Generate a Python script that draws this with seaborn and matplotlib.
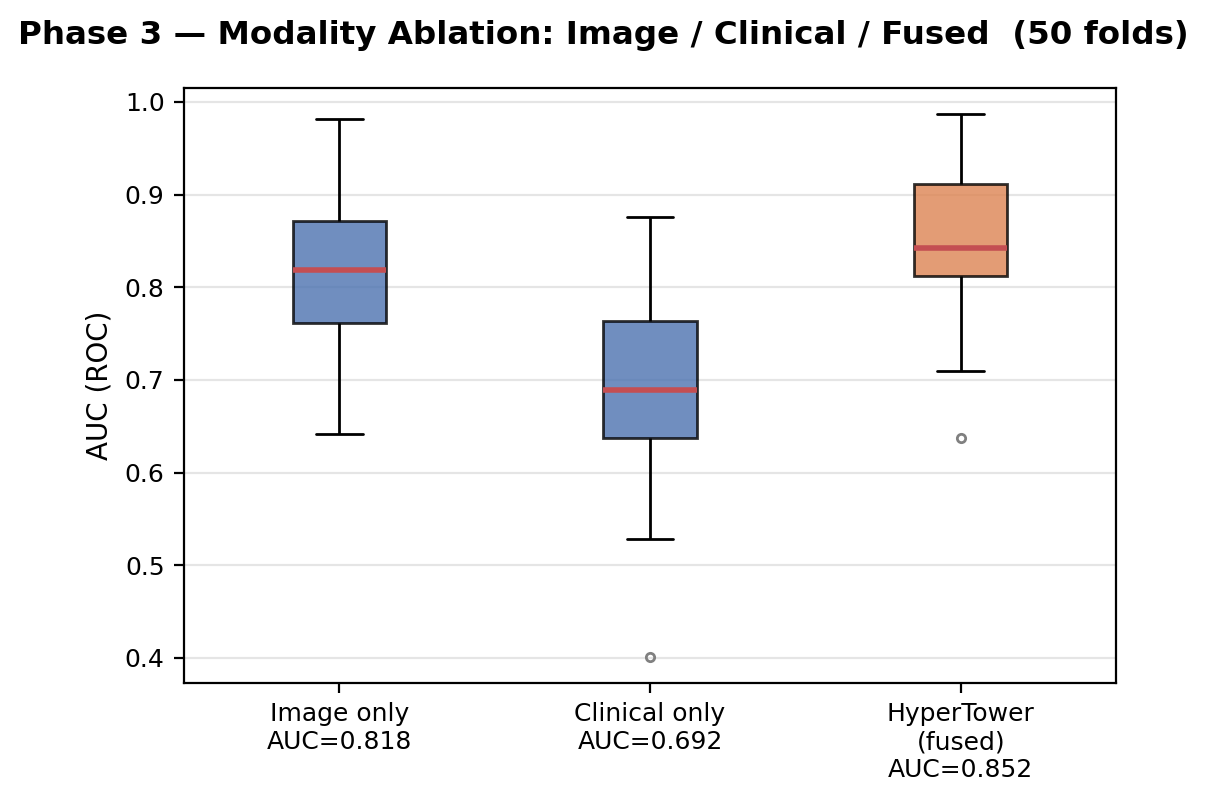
import numpy as np
import pandas as pd
import matplotlib
matplotlib.use("Agg")
import matplotlib.pyplot as plt
import seaborn as sns

# Box statistics (AUC per fold summary)
models = ["Image only", "Clinical only", "HyperTower\n(fused)"]
mean_auc = [0.818, 0.692, 0.852]
whisker_lo = [0.642, 0.528, 0.710]
q1 = [0.761, 0.637, 0.812]
median = [0.819, 0.689, 0.842]
q3 = [0.872, 0.764, 0.911]
whisker_hi = [0.982, 0.876, 0.987]
outliers = [[], [0.401], [0.637]]
colors = ["#4C72B0", "#4C72B0", "#DD8452"]

labels = [f"{m}\nAUC={a:.3f}" for m, a in zip(models, mean_auc)]

# Build a small long table whose quartiles reproduce the read statistics (n=9 per group)
rows = []
for i, lab in enumerate(labels):
    lowfill = outliers[i] if outliers[i] else [whisker_lo[i]]
    vals = lowfill + [whisker_lo[i], q1[i], q1[i], median[i], q3[i], q3[i], whisker_hi[i], whisker_hi[i]]
    for v in vals:
        rows.append({"model": lab, "auc": v})
df = pd.DataFrame(rows)

sns.set_theme(style="ticks")
plt.rcParams["font.family"] = ["DejaVu Sans"]
plt.rcParams["text.color"] = "black"

fig = plt.figure(figsize=(6.03, 3.99), dpi=200)
ax = fig.add_axes([0.1526, 0.1441, 0.7728, 0.7456])

sns.boxplot(
    data=df, x="model", y="auc", hue="model", palette=colors, legend=False,
    saturation=1.0,
    width=0.3, linecolor="black", linewidth=1.0, whis=1.5, ax=ax,
    boxprops=dict(alpha=0.8),
    medianprops=dict(color="#C44E52", linewidth=2.0, alpha=1.0),
    whiskerprops=dict(color="black", linewidth=1.0),
    capprops=dict(color="black", linewidth=1.0),
    flierprops=dict(marker="o", markersize=3, markerfacecolor="none",
                    markeredgecolor="grey", markeredgewidth=1.0),
)

ax.set_xlim(-0.5, 2.5)
ax.set_ylim(0.373, 1.015)
ax.set_yticks([0.4, 0.5, 0.6, 0.7, 0.8, 0.9, 1.0])
ax.set_yticklabels(["0.4", "0.5", "0.6", "0.7", "0.8", "0.9", "1.0"])
ax.yaxis.grid(True, color="#e5e5e5", linewidth=0.8)
ax.set_axisbelow(True)
for s in ax.spines.values():
    s.set_color("black")
    s.set_linewidth(0.8)
ax.tick_params(axis="both", labelsize=9, color="black", length=3.5, width=0.8, labelcolor="black")
ax.set_xlabel("")
ax.set_ylabel("AUC (ROC)", fontsize=10, color="black")
fig.suptitle("Phase 3 \u2014 Modality Ablation: Image / Clinical / Fused  (50 folds)",
             fontsize=11.7, fontweight="bold", x=0.5, y=0.975, color="black")

fig.savefig("out.png", dpi=200)
